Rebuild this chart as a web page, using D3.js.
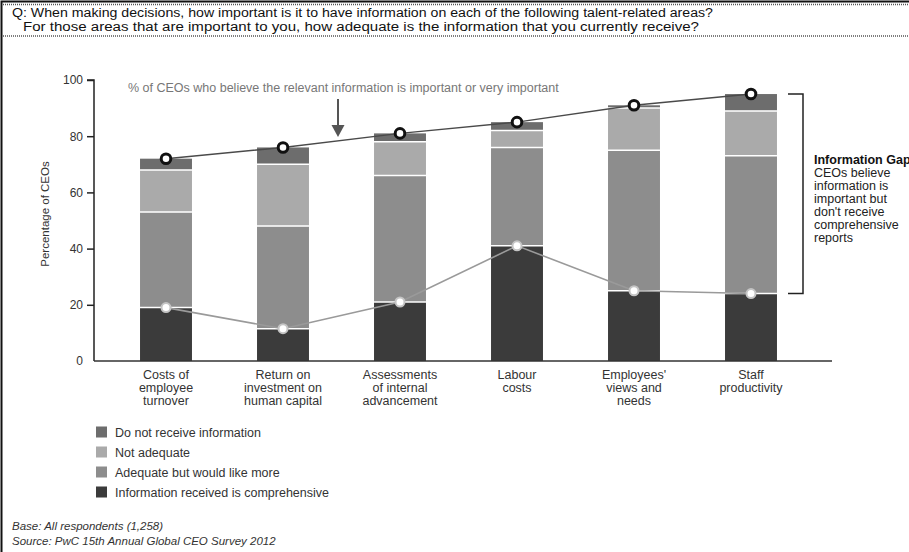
<!DOCTYPE html>
<html>
<head>
<meta charset="utf-8">
<script src="https://cdn.jsdelivr.net/npm/d3@7"></script>
<style>
  body { margin: 0; background: #fff; }
  svg { display: block; font-family: "Liberation Sans", Arial, sans-serif; }
</style>
</head>
<body>
<div id="chart"></div>
<script>
// Data
const categories = [
    ["Costs of", "employee", "turnover"],
    ["Return on", "investment on", "human capital"],
    ["Assessments", "of internal", "advancement"],
    ["Labour", "costs"],
    ["Employees'", "views and", "needs"],
    ["Staff", "productivity"]
];
const comprehensive = [19, 11.5, 21, 41, 25, 24];
const adequateMore  = [34, 36.5, 45, 35, 50, 49];
const notAdequate   = [15, 22, 12, 6, 15, 16];
const notReceived   = [4, 6, 3, 3, 1, 6];
const yTicks = [0, 20, 40, 60, 80, 100];

const seriesNames = ["Information received is comprehensive", "Adequate but would like more", "Not adequate", "Do not receive information"];
const seriesColors = ["#3b3b3b", "#8d8d8d", "#aaaaaa", "#6d6d6d"];
const gapLines = ["CEOs believe", "information is", "important but", "don't receive", "comprehensive", "reports"];

const W = 909, H = 552;
const svg = d3.select("#chart").append("svg")
    .attr("width", W)
    .attr("height", H);

// frame + dotted rules
svg.append("path")
    .attr("d", `M1.5,${H} V1.5 H${W}`)
    .attr("fill", "none")
    .attr("stroke", "#111")
    .attr("stroke-width", 2);

[4.5, 36].forEach(yy => {
    svg.append("line")
        .attr("x1", 3).attr("x2", W)
        .attr("y1", yy).attr("y2", yy)
        .attr("stroke", "#555")
        .attr("stroke-width", 1.5)
        .attr("stroke-dasharray", "1,1");
});

svg.append("text")
    .attr("x", 12).attr("y", 16.5)
    .style("font-size", "12.5px")
    .attr("textLength", 701)
    .attr("lengthAdjust", "spacingAndGlyphs")
    .attr("fill", "#111")
    .text("Q: When making decisions, how important is it to have information on each of the following talent-related areas?");
svg.append("text")
    .attr("x", 23).attr("y", 30.5)
    .style("font-size", "12.5px")
    .attr("textLength", 676)
    .attr("lengthAdjust", "spacingAndGlyphs")
    .attr("fill", "#111")
    .text("For those areas that are important to you, how adequate is the information that you currently receive?");

// Scales
const x = d3.scaleBand()
    .domain(d3.range(categories.length))
    .range([107.5, 809.5])
    .paddingInner(0.556)
    .paddingOuter(0.278);

const y = d3.scaleLinear()
    .domain([0, 100])
    .range([361, 80]);

const rows = categories.map((c, i) => ({
    i: i,
    vals: [comprehensive[i], adequateMore[i], notAdequate[i], notReceived[i]]
}));
const stack = d3.stack()
    .keys([0, 1, 2, 3])
    .value((d, k) => d.vals[k]);
const layers = stack(rows);

// Bars
const g = svg.append("g");
layers.forEach((layer, k) => {
    g.selectAll(".seg" + k)
        .data(layer)
        .enter()
        .append("rect")
        .attr("x", d => x(d.data.i))
        .attr("y", d => y(d[1]))
        .attr("width", x.bandwidth())
        .attr("height", d => y(d[0]) - y(d[1]))
        .attr("fill", seriesColors[k]);
});
// white separators between segments
layers.slice(0, 3).forEach(layer => {
    g.selectAll(null)
        .data(layer)
        .enter()
        .append("line")
        .attr("x1", d => x(d.data.i))
        .attr("x2", d => x(d.data.i) + x.bandwidth())
        .attr("y1", d => y(d[1]))
        .attr("y2", d => y(d[1]))
        .attr("stroke", "#fff")
        .attr("stroke-width", 1.5);
});

// Axes
const yAxis = d3.axisLeft(y).tickValues(yTicks).tickSize(7).tickPadding(4);
const ya = svg.append("g")
    .attr("transform", "translate(94,0)")
    .call(yAxis);
ya.select(".domain").attr("stroke", "#222").attr("stroke-width", 1.5).attr("d", `M-7,${y(100)}H0V${y(0)}`);
ya.selectAll(".tick line").attr("stroke", "#222").attr("stroke-width", 1.5);
ya.selectAll(".tick text")
    .style("font-size", "12px")
    .style("font-family", "Liberation Sans, Arial, sans-serif")
    .attr("fill", "#333");
ya.select(".tick:first-of-type line").remove();

svg.append("line")
    .attr("x1", 94).attr("x2", 832)
    .attr("y1", y(0)).attr("y2", y(0))
    .attr("stroke", "#333")
    .attr("stroke-width", 1.5);

svg.append("text")
    .attr("transform", "translate(49,214) rotate(-90)")
    .attr("text-anchor", "middle")
    .style("font-size", "11.5px")
    .attr("fill", "#333")
    .text("Percentage of CEOs");

// Category labels
categories.forEach((lines, i) => {
    const t = svg.append("text")
        .attr("text-anchor", "middle")
        .style("font-size", "12.5px")
        .attr("fill", "#333");
    lines.forEach((s, j) => {
        t.append("tspan")
            .attr("x", x(i) + x.bandwidth() / 2)
            .attr("y", 378.5 + j * 13)
            .text(s);
    });
});

// Lines and markers
const cx = d => x(d.data.i) + x.bandwidth() / 2;
const topLayer = layers[3];
const lowLayer = layers[0];

svg.append("path")
    .datum(lowLayer)
    .attr("fill", "none")
    .attr("stroke", "#9a9a9a")
    .attr("stroke-width", 1.6)
    .attr("d", d3.line().x(cx).y(d => y(d[1])));

svg.append("path")
    .datum(topLayer)
    .attr("fill", "none")
    .attr("stroke", "#4a4a4a")
    .attr("stroke-width", 1.4)
    .attr("d", d3.line().x(cx).y(d => y(d[1])));

svg.selectAll(".dot-low")
    .data(lowLayer)
    .enter()
    .append("circle")
    .attr("cx", cx)
    .attr("cy", d => y(d[1]))
    .attr("r", 4.5)
    .attr("fill", "#fff")
    .attr("stroke", "#c4c4c4")
    .attr("stroke-width", 2);

svg.selectAll(".dot-top")
    .data(topLayer)
    .enter()
    .append("circle")
    .attr("cx", cx)
    .attr("cy", d => y(d[1]))
    .attr("r", 4.8)
    .attr("fill", "#fff")
    .attr("stroke", "#111")
    .attr("stroke-width", 3);

// Annotation with arrow
svg.append("text")
    .attr("x", 128).attr("y", 91.5)
    .style("font-size", "12.5px")
    .attr("fill", "#777")
    .text("% of CEOs who believe the relevant information is important or very important");

svg.append("line")
    .attr("x1", 338).attr("x2", 338)
    .attr("y1", 99).attr("y2", 127)
    .attr("stroke", "#555")
    .attr("stroke-width", 2);
svg.append("path")
    .attr("d", "M331.5,125 L344.5,125 L338,137 Z")
    .attr("fill", "#555");

// Information gap bracket
const last = categories.length - 1;
const bx = 803;
svg.append("path")
    .attr("d", `M788,${y(topLayer[last][1])} H${bx} V${y(lowLayer[last][1])} H788`)
    .attr("fill", "none")
    .attr("stroke", "#222")
    .attr("stroke-width", 1.5);

svg.append("text")
    .attr("x", 814).attr("y", 163.5)
    .style("font-size", "12.5px")
    .style("font-weight", "bold")
    .attr("fill", "#111")
    .text("Information Gap");
const gt = svg.append("text")
    .style("font-size", "12.5px")
    .attr("fill", "#222");
gapLines.forEach((s, j) => {
    gt.append("tspan")
        .attr("x", 814)
        .attr("y", 177 + j * 13)
        .text(s);
});

// Legend (top of stack listed first)
const legendData = d3.range(4).reverse().map(k => ({ name: seriesNames[k], color: seriesColors[k] }));
const legend = svg.append("g")
    .attr("transform", "translate(96,426.5)");
legend.selectAll("rect")
    .data(legendData)
    .enter()
    .append("rect")
    .attr("x", 0)
    .attr("y", (d, i) => i * 20)
    .attr("width", 11)
    .attr("height", 11)
    .attr("fill", d => d.color);
legend.selectAll("text")
    .data(legendData)
    .enter()
    .append("text")
    .attr("x", 19)
    .attr("y", (d, i) => i * 20 + 10)
    .style("font-size", "12.5px")
    .attr("fill", "#333")
    .text(d => d.name);

// Footnotes
svg.append("text")
    .attr("x", 12).attr("y", 530)
    .style("font-size", "11.5px")
    .style("font-style", "italic")
    .attr("fill", "#333")
    .text("Base: All respondents (1,258)");
svg.append("text")
    .attr("x", 12).attr("y", 545)
    .style("font-size", "11.5px")
    .style("font-style", "italic")
    .attr("fill", "#333")
    .text("Source: PwC 15th Annual Global CEO Survey 2012");
</script>
</body>
</html>
